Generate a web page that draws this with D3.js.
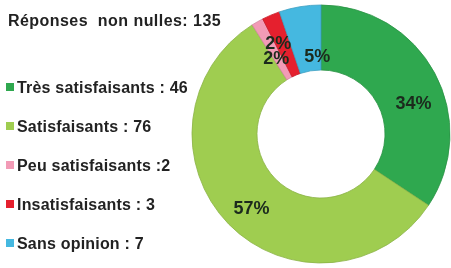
<!DOCTYPE html>
<html><head><meta charset="utf-8">
<script src="https://cdn.jsdelivr.net/npm/d3@7"></script>
<style>html,body{margin:0;padding:0;background:#fff;}svg{display:block;}</style>
</head><body>
<svg id="c" width="451" height="268"></svg>
<script>
const title = "Réponses  non nulles: 135";
const categories = ["Très satisfaisants", "Satisfaisants", "Peu satisfaisants", "Insatisfaisants", "Sans opinion"];
const counts = [46, 76, 2, 3, 7];
const legendLabels = ["Très satisfaisants : 46", "Satisfaisants : 76", "Peu satisfaisants :2", "Insatisfaisants : 3", "Sans opinion : 7"];
const percentLabels = ["34%", "57%", "2%", "2%", "5%"];
const colors = ["#2fa84f", "#9fcd50", "#f29bb6", "#e5202e", "#45b8e0"];

const svg = d3.select("#c");
const W = 451, H = 268;
svg.append("rect").attr("width", W).attr("height", H).attr("fill", "#fff");

const defs = svg.append("defs");
const f = defs.append("filter").attr("id", "soft").attr("x", "-5%").attr("y", "-20%").attr("width", "110%").attr("height", "140%");
f.append("feGaussianBlur").attr("stdDeviation", 0.4);

const FONT = "Liberation Sans, Arial, sans-serif";

// Title
svg.append("text").attr("x", 8).attr("y", 26)
  .attr("font-family", FONT).attr("font-weight", "bold")
  .attr("font-size", 16).attr("letter-spacing", 0.45).attr("fill", "#222")
  .style("white-space", "pre").attr("filter", "url(#soft)")
  .text(title);

// Legend
const ly = d3.scalePoint().domain(categories).range([87, 243]);
const lg = svg.append("g");
categories.forEach((c, i) => {
  const y = ly(c);
  lg.append("rect").attr("x", 6).attr("y", y - 4).attr("width", 8).attr("height", 8)
    .attr("fill", colors[i]);
  lg.append("text").attr("x", 17).attr("y", y + 6)
    .attr("font-family", FONT).attr("font-weight", "bold")
    .attr("font-size", 16).attr("letter-spacing", 0.2).attr("fill", "#222").attr("filter", "url(#soft)")
    .text(legendLabels[i]);
});

// Donut
const cx = 321, cy = 134, rOut = 129, rIn = 64;
const pie = d3.pie().sort(null).value(d => d);
const arcs = pie(counts);
const arc = d3.arc().innerRadius(rIn).outerRadius(rOut);
const g = svg.append("g").attr("transform", `translate(${cx},${cy})`);
g.selectAll("path.s").data(arcs).enter().append("path").attr("class", "s")
  .attr("d", arc).attr("fill", (d, i) => colors[i])
  .attr("stroke", (d, i) => d3.color(colors[i]).darker(0.4)).attr("stroke-width", 0.8);

// Labels
const labelArc = d3.arc().innerRadius(97).outerRadius(97);
const nudges = [[7, 15], [0, 6], [3, 8], [-5, -2], [12, 18]];
g.selectAll("text.l").data(arcs).enter().append("text").attr("class", "l")
  .attr("transform", (d, i) => {
    const [x, y] = labelArc.centroid(d);
    return `translate(${x + nudges[i][0]},${y + nudges[i][1]})`;
  })
  .attr("text-anchor", "middle").attr("dominant-baseline", "central")
  .attr("font-family", FONT).attr("font-weight", "bold")
  .attr("font-size", 18).attr("fill", "#1b2b1e").attr("filter", "url(#soft)")
  .text((d, i) => percentLabels[i]);
</script>
</body></html>
